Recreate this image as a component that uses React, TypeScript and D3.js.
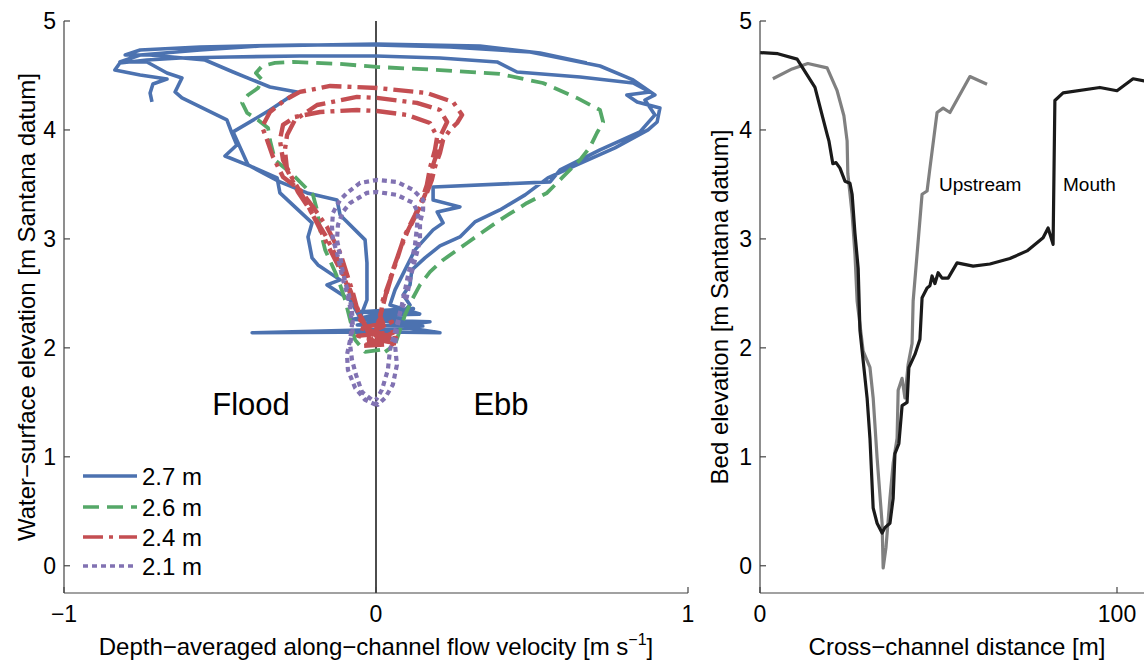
import React from "react";
import * as d3 from "d3";

// ---- Left panel: water-surface elevation vs depth-averaged velocity ----
// Each series is a sequence of [velocity (m/s), elevation (m)] samples.
const series27: [number, number][] = [
  [-0.718, 4.257], [-0.724, 4.339], [-0.715, 4.422], [-0.67, 4.468], [-0.756, 4.505], [-0.837, 4.55],
  [-0.821, 4.615], [-0.734, 4.642], [-0.628, 4.661], [-0.468, 4.67], [-0.244, 4.679], [0, 4.679],
  [0.205, 4.661], [0.388, 4.624], [0.452, 4.532], [0.654, 4.486], [0.824, 4.431], [0.878, 4.349],
  [0.804, 4.321], [0.837, 4.257], [0.91, 4.202], [0.901, 4.073], [0.872, 4.0], [0.766, 3.835],
  [0.622, 3.651], [0.551, 3.56], [0.478, 3.404], [0.397, 3.266], [0.317, 3.156], [0.269, 3.018],
  [0.205, 2.936], [0.157, 2.826], [0.115, 2.716], [0.109, 2.578], [0.087, 2.486], [0.109, 2.394],
  [0.077, 2.303], [-0.05, 2.33], [0.12, 2.36], [-0.08, 2.26], [0.173, 2.239], [0.061, 2.202],
  [0.205, 2.138], [0.029, 2.147], [-0.397, 2.138], [-0.019, 2.165], [0.15, 2.2], [-0.06, 2.21],
  [0.09, 2.28], [-0.051, 2.275], [-0.029, 2.44], [-0.029, 2.78], [-0.035, 2.991], [-0.115, 3.22],
  [-0.125, 3.358], [-0.221, 3.422], [-0.308, 3.523], [-0.41, 3.679], [-0.458, 3.982], [-0.34, 4.183],
  [-0.253, 4.349], [-0.34, 4.394], [-0.458, 4.532], [-0.548, 4.642], [-0.724, 4.688], [-0.804, 4.688],
  [-0.756, 4.734], [-0.564, 4.761], [-0.244, 4.78], [0, 4.78], [0.237, 4.761], [0.494, 4.716],
  [0.718, 4.587], [0.824, 4.459], [0.894, 4.321], [0.862, 4.275], [0.894, 4.138], [0.846, 3.982],
  [0.718, 3.817], [0.59, 3.633], [0.558, 3.523], [0.183, 3.477], [0.183, 3.358], [0.269, 3.294],
  [0.196, 3.248], [0.215, 3.147], [0.183, 3.083], [0.125, 2.899], [0.093, 2.716], [0.061, 2.532],
  [0.045, 2.394], [0.14, 2.31], [-0.02, 2.3], [0.1, 2.22], [0, 2.257], [-0.051, 2.275],
  [-0.083, 2.44], [-0.157, 2.578], [-0.115, 2.624], [-0.186, 2.761], [-0.205, 2.826], [-0.218, 3.018],
  [-0.205, 3.147], [-0.308, 3.422], [-0.317, 3.56], [-0.397, 3.661], [-0.484, 3.761], [-0.446, 3.862],
  [-0.462, 3.972], [-0.478, 4.092], [-0.622, 4.294], [-0.644, 4.349], [-0.622, 4.477], [-0.67, 4.523],
  [-0.734, 4.624], [-0.821, 4.624], [-0.756, 4.688], [-0.564, 4.734], [-0.372, 4.771], [0, 4.789],
  [0.333, 4.771], [0.526, 4.706], [0.676, 4.615],
];

const series26: [number, number][] = [
  [0.013, 1.982], [-0.035, 1.963], [-0.067, 2.073], [-0.083, 2.257], [-0.099, 2.44], [-0.115, 2.578],
  [-0.131, 2.697], [-0.163, 2.899], [-0.179, 3.083], [-0.189, 3.266], [-0.202, 3.404], [-0.266, 3.587],
  [-0.324, 3.725], [-0.34, 3.908], [-0.346, 4.018], [-0.378, 4.092], [-0.413, 4.156], [-0.429, 4.248],
  [-0.41, 4.321], [-0.378, 4.385], [-0.365, 4.459], [-0.385, 4.523], [-0.365, 4.587], [-0.324, 4.615],
  [-0.266, 4.624], [-0.115, 4.606], [0.003, 4.578], [0.205, 4.55], [0.397, 4.514], [0.535, 4.431],
  [0.644, 4.294], [0.718, 4.183], [0.728, 4.073], [0.708, 3.972], [0.686, 3.844], [0.654, 3.725],
  [0.599, 3.569], [0.548, 3.422], [0.484, 3.33], [0.397, 3.174], [0.292, 2.963], [0.215, 2.807],
  [0.173, 2.697], [0.141, 2.578], [0.115, 2.44], [0.093, 2.303], [0.077, 2.165], [0.061, 2.028],
  [0.029, 1.963],
];

const series24: [number, number][] = [
  [0.013, 2.073], [-0.051, 2.257], [-0.074, 2.505], [-0.115, 2.872], [-0.157, 3.11], [-0.202, 3.294],
  [-0.244, 3.45], [-0.298, 3.569], [-0.33, 3.752], [-0.349, 3.908], [-0.365, 4.028], [-0.34, 4.165],
  [-0.292, 4.275], [-0.244, 4.349], [-0.147, 4.404], [0.003, 4.385], [0.163, 4.339], [0.247, 4.257],
  [0.276, 4.138], [0.26, 4.064], [0.237, 4.0], [0.215, 3.908], [0.205, 3.789], [0.189, 3.661],
  [0.179, 3.541], [0.163, 3.422], [0.141, 3.294], [0.109, 3.11], [0.087, 2.991], [0.067, 2.807],
  [0.045, 2.624], [0.022, 2.44], [0.013, 2.257], [0.006, 2.073], [0.061, 2.147], [-0.058, 2.11],
  [0.071, 2.037], [-0.045, 2.018], [0.045, 2.092],
  [-0.019, 2.119], [-0.051, 2.303], [-0.083, 2.532], [-0.122, 2.807], [-0.163, 3.037], [-0.212, 3.266],
  [-0.25, 3.431], [-0.285, 3.633], [-0.292, 3.817], [-0.285, 3.954], [-0.26, 4.092], [-0.189, 4.229],
  [-0.061, 4.303], [0.003, 4.294], [0.131, 4.248], [0.205, 4.183], [0.228, 4.073], [0.205, 3.936],
  [0.199, 3.817], [0.183, 3.679], [0.173, 3.541], [0.157, 3.404], [0.135, 3.266], [0.103, 3.083],
  [0.077, 2.899], [0.054, 2.716], [0.035, 2.532], [0.019, 2.349], [0, 2.165], [0.051, 2.239],
  [-0.051, 2.183], [0.064, 2.092], [-0.032, 2.055],
  [-0.013, 2.073], [-0.045, 2.257], [-0.077, 2.459], [-0.106, 2.67], [-0.147, 2.899], [-0.186, 3.128],
  [-0.228, 3.358], [-0.269, 3.56], [-0.298, 3.725], [-0.308, 3.908], [-0.298, 4.046], [-0.26, 4.119],
  [-0.179, 4.165], [-0.061, 4.183], [0.003, 4.174], [0.099, 4.138], [0.173, 4.064], [0.196, 3.936],
  [0.189, 3.817], [0.173, 3.651], [0.163, 3.495], [0.147, 3.358], [0.125, 3.22], [0.093, 3.037],
  [0.071, 2.853], [0.051, 2.67], [0.032, 2.486], [0.013, 2.303], [0.029, 2.165], [0.006, 2.028],
];

const series21: [number, number][] = [
  [0, 1.477], [-0.035, 1.523], [-0.067, 1.633], [-0.09, 1.798], [-0.093, 1.936], [-0.083, 2.073],
  [-0.077, 2.211], [-0.083, 2.376], [-0.093, 2.505], [-0.106, 2.624], [-0.115, 2.743], [-0.125, 2.872],
  [-0.138, 2.991], [-0.141, 3.11], [-0.138, 3.239], [-0.115, 3.358], [-0.093, 3.422], [-0.051, 3.514],
  [0.003, 3.541], [0.067, 3.523], [0.119, 3.45], [0.151, 3.358], [0.151, 3.266], [0.141, 3.147],
  [0.141, 2.991], [0.131, 2.872], [0.119, 2.743], [0.109, 2.624], [0.099, 2.468], [0.077, 2.321],
  [0.067, 2.165], [0.061, 2.028], [0.067, 1.844], [0.054, 1.661], [0.029, 1.541], [0.006, 1.477],
  [-0.013, 1.523], [-0.045, 1.596], [-0.064, 1.752], [-0.077, 1.89], [-0.083, 2.028], [-0.074, 2.183],
  [-0.077, 2.349], [-0.087, 2.486], [-0.099, 2.606], [-0.109, 2.734], [-0.115, 2.853], [-0.125, 2.991],
  [-0.122, 3.128], [-0.106, 3.248], [-0.083, 3.33], [-0.029, 3.422], [0.003, 3.431], [0.067, 3.404],
  [0.119, 3.33], [0.135, 3.239], [0.131, 3.101], [0.125, 2.945], [0.115, 2.807], [0.103, 2.67],
  [0.093, 2.532], [0.083, 2.394], [0.071, 2.257], [0.058, 2.119], [0.045, 1.982], [0.038, 1.798],
  [0.019, 1.615], [0, 1.523],
];

const seriesNames = ["2.7 m", "2.6 m", "2.4 m", "2.1 m"];
const seriesColors = ["#4c72b0", "#55a868", "#c44e52", "#8172b2"];
const seriesDashes = ["none", "16,8", "20,6,4,6", "5,4"];
const seriesWidths = [3.6, 3.8, 4.4, 4.2];
const velocityTicks = [-1, 0, 1];
const elevationTicks = [0, 1, 2, 3, 4, 5];

// ---- Right panel: bed elevation across the channel ----
// [distance (m), elevation (m)]
const mouthProfile: [number, number][] = [
  [0, 4.71], [5.0, 4.7], [10.4, 4.65], [15.4, 4.39], [17.6, 4.11], [18.8, 3.96], [19.3, 3.9],
  [20.4, 3.69], [21.3, 3.7], [22.4, 3.65], [23.8, 3.53], [25.2, 3.51], [25.8, 3.41], [26.6, 3.05],
  [27.5, 2.73], [28.0, 2.16], [30.0, 1.54], [30.8, 1.17], [31.7, 0.53], [32.8, 0.39], [34.2, 0.3],
  [35.0, 0.35], [36.4, 0.39], [37.3, 0.62], [37.8, 1.03], [38.9, 1.12], [39.8, 1.47], [41.2, 1.5],
  [41.7, 1.82], [43.4, 1.94], [44.8, 2.08], [45.4, 2.46], [46.8, 2.55], [47.6, 2.57], [48.2, 2.66],
  [49.0, 2.59], [49.9, 2.69], [51.0, 2.64], [52.7, 2.64], [55.2, 2.78], [59.7, 2.75], [64.4, 2.77],
  [70.0, 2.82], [74.8, 2.89], [79.3, 3.01], [80.7, 3.1], [82.1, 2.95], [82.6, 4.27], [84.9, 4.34],
  [95.2, 4.39], [100.0, 4.36], [104.5, 4.47], [107.6, 4.45], [110.0, 4.44],
];

const upstreamProfile: [number, number][] = [
  [3.6, 4.47], [9.0, 4.56], [13.4, 4.61], [18.8, 4.57], [21.6, 4.36], [23.5, 4.13], [24.4, 3.9],
  [24.6, 3.6], [25.8, 3.23], [26.6, 2.86], [27.2, 2.43], [28.9, 1.97], [30.8, 1.82], [31.7, 1.54],
  [32.8, 0.99], [34.2, 0.39], [34.5, -0.02], [35.3, 0.17], [36.4, 0.62], [37.3, 0.94], [38.4, 1.17],
  [38.7, 1.61], [39.8, 1.72], [40.6, 1.54], [41.5, 1.85], [42.6, 2.04], [42.9, 2.43], [44.0, 2.86],
  [45.4, 3.41], [46.8, 3.44], [47.6, 3.65], [49.6, 4.16], [51.3, 4.2], [53.2, 4.16], [58.8, 4.49],
  [63.6, 4.42],
];

const distanceTicks = [0, 100];

const FONT = "'Liberation Sans', Arial, Helvetica, sans-serif";
const AXIS = "#444";

export default function App() {
  // left panel scales
  const xL = d3.scaleLinear().domain([-1, 1]).range([64, 688]);
  const yL = d3.scaleLinear().domain([-0.25, 5]).range([593, 21]);
  // right panel scales
  const xR = d3.scaleLinear().domain([0, 100]).range([760, 1117]);
  const yR = d3.scaleLinear().domain([-0.25, 5]).range([593, 21]);

  const lineL = d3
    .line<[number, number]>()
    .x((d) => xL(d[0]))
    .y((d) => yL(d[1]));
  const lineR = d3
    .line<[number, number]>()
    .x((d) => xR(d[0]))
    .y((d) => yR(d[1]));

  const allSeries = [series27, series26, series24, series21];
  const legendY = [476, 507, 537, 566];

  const tickSize = 6;

  return (
    <svg
      width={1144}
      height={667}
      style={{ position: "absolute", left: 0, top: 0, background: "#fff" }}
      fontFamily={FONT}
    >
      <rect x={0} y={0} width={1144} height={667} fill="#fff" />

      {/* ---------- left panel ---------- */}
      {/* zero-velocity divider */}
      <line x1={xL(0)} x2={xL(0)} y1={yL(5)} y2={yL(-0.25)} stroke="#000" strokeWidth={1.4} />

      {allSeries.map((s, i) => (
        <path
          key={seriesNames[i]}
          d={lineL(s) || ""}
          fill="none"
          stroke={seriesColors[i]}
          strokeWidth={seriesWidths[i]}
          strokeDasharray={seriesDashes[i]}
          strokeLinejoin="round"
          strokeLinecap="butt"
        />
      ))}

      {/* axes */}
      <line x1={xL(-1)} x2={xL(-1)} y1={yL(5)} y2={yL(-0.25)} stroke={AXIS} strokeWidth={1.2} />
      <line x1={xL(-1)} x2={xL(1)} y1={yL(-0.25)} y2={yL(-0.25)} stroke={AXIS} strokeWidth={1.2} />
      {elevationTicks.map((t) => (
        <g key={"yl" + t}>
          <line x1={xL(-1)} x2={xL(-1) + tickSize} y1={yL(t)} y2={yL(t)} stroke={AXIS} strokeWidth={1.2} />
          <text x={xL(-1) - 8} y={yL(t)} textAnchor="end" dominantBaseline="central" fontSize={23}>
            {t}
          </text>
        </g>
      ))}
      {velocityTicks.map((t) => (
        <g key={"xl" + t}>
          <line x1={xL(t)} x2={xL(t)} y1={yL(-0.25)} y2={yL(-0.25) - tickSize} stroke={AXIS} strokeWidth={1.2} />
          <text x={xL(t)} y={622} textAnchor="middle" fontSize={23}>
            {t < 0 ? "\u2212" + Math.abs(t) : t}
          </text>
        </g>
      ))}

      <text x={376} y={655} textAnchor="middle" fontSize={24}>
        Depth{"\u2212"}averaged along{"\u2212"}channel flow velocity [m s
        <tspan fontSize={16} dy={-10}>
          {"\u2212"}1
        </tspan>
        <tspan dy={10}>]</tspan>
      </text>
      <text
        transform={`translate(35, ${(yL(5) + yL(-0.25)) / 2}) rotate(-90)`}
        textAnchor="middle"
        fontSize={24}
      >
        Water{"\u2212"}surface elevation [m Santana datum]
      </text>

      <text x={251} y={415} textAnchor="middle" fontSize={31}>
        Flood
      </text>
      <text x={501} y={415} textAnchor="middle" fontSize={31}>
        Ebb
      </text>

      {/* legend */}
      {seriesNames.map((name, i) => (
        <g key={"lg" + name}>
          <line
            x1={83}
            x2={137}
            y1={legendY[i]}
            y2={legendY[i]}
            stroke={seriesColors[i]}
            strokeWidth={3.6}
            strokeDasharray={seriesDashes[i]}
          />
          <text x={142} y={legendY[i]} dominantBaseline="central" fontSize={24}>
            {name}
          </text>
        </g>
      ))}

      {/* ---------- right panel ---------- */}
      <path d={lineR(upstreamProfile) || ""} fill="none" stroke="#808080" strokeWidth={3.2} strokeLinejoin="round" />
      <path d={lineR(mouthProfile) || ""} fill="none" stroke="#1a1a1a" strokeWidth={3.2} strokeLinejoin="round" />

      <line x1={xR(0)} x2={xR(0)} y1={yR(5)} y2={yR(-0.25)} stroke={AXIS} strokeWidth={1.2} />
      <line x1={xR(0)} x2={1144} y1={yR(-0.25)} y2={yR(-0.25)} stroke={AXIS} strokeWidth={1.2} />
      {elevationTicks.map((t) => (
        <g key={"yr" + t}>
          <line x1={xR(0)} x2={xR(0) + tickSize} y1={yR(t)} y2={yR(t)} stroke={AXIS} strokeWidth={1.2} />
          <text x={xR(0) - 8} y={yR(t)} textAnchor="end" dominantBaseline="central" fontSize={23}>
            {t}
          </text>
        </g>
      ))}
      {distanceTicks.map((t) => (
        <g key={"xr" + t}>
          <line x1={xR(t)} x2={xR(t)} y1={yR(-0.25)} y2={yR(-0.25) - tickSize} stroke={AXIS} strokeWidth={1.2} />
          <text x={xR(t)} y={622} textAnchor="middle" fontSize={23}>
            {t}
          </text>
        </g>
      ))}

      <text x={957} y={655} textAnchor="middle" fontSize={24}>
        Cross{"\u2212"}channel distance [m]
      </text>
      <text
        transform={`translate(728, ${(yR(5) + yR(-0.25)) / 2}) rotate(-90)`}
        textAnchor="middle"
        fontSize={24}
      >
        Bed elevation [m Santana datum]
      </text>

      <text x={939} y={191} fontSize={19}>
        Upstream
      </text>
      <text x={1063} y={191} fontSize={19}>
        Mouth
      </text>
    </svg>
  );
}
